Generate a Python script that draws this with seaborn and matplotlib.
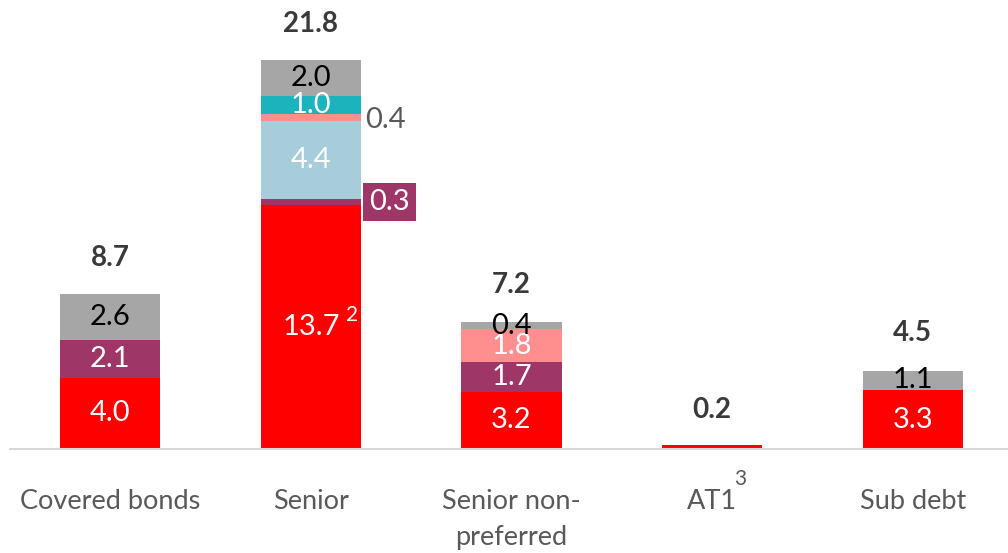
import matplotlib
matplotlib.use("Agg")
import matplotlib.pyplot as plt
import seaborn as sns
import numpy as np
import pandas as pd

categories = ["Covered bonds", "Senior", "Senior non-\npreferred", "AT1", "Sub debt"]
layers = ["base", "purple", "lightblue", "pink", "teal", "gray"]
base = [4.0, 13.7, 3.2, 0.2, 3.3]
purple = [2.1, 0.3, 1.7, 0.0, 0.0]
lightblue = [0.0, 4.4, 0.0, 0.0, 0.0]
pink = [0.0, 0.4, 1.8, 0.0, 0.0]
teal = [0.0, 1.0, 0.0, 0.0, 0.0]
gray = [2.6, 2.0, 0.4, 0.0, 1.1]
totals = [8.7, 21.8, 7.2, 0.2, 4.5]

colors = {"base": "#FF0000", "purple": "#9E3667", "lightblue": "#A7CCDA",
          "pink": "#FF8F8F", "teal": "#1BB3BC", "gray": "#A6A6A6"}
label_colors = {"base": "white", "purple": "white", "lightblue": "white",
                "pink": "white", "teal": "white", "gray": "black"}

sns.set_theme(style="white")
plt.rcParams["font.family"] = ["Lato", "DejaVu Sans"]

vals = {"base": base, "purple": purple, "lightblue": lightblue, "pink": pink,
        "teal": teal, "gray": gray}
cum = np.cumsum(np.array([vals[l] for l in layers]), axis=0)

fig = plt.figure(figsize=(10.08, 5.53), dpi=100)
ax = fig.add_axes([10/1008, 104/553, 1003/1008, 449/553])

# draw cumulative bars from top layer down so lower layers overlay
for i in range(len(layers) - 1, -1, -1):
    df = pd.DataFrame({"cat": categories, "h": cum[i]})
    sns.barplot(data=df, x="cat", y="h", order=categories, color=colors[layers[i]],
                width=0.5, errorbar=None, saturation=1, ax=ax, linewidth=0)

ax.set_xlim(-0.5, 4.5)
ax.set_ylim(0, 25.17)
ax.set_xlabel("")
ax.set_ylabel("")
ax.set_yticks([])
for s in ["top", "left", "right"]:
    ax.spines[s].set_visible(False)
ax.spines["bottom"].set_color("#D9D9D9")
ax.spines["bottom"].set_linewidth(1.5)
ax.tick_params(axis="x", length=0, pad=29, labelsize=19.5, labelcolor="#595959")
ax.set_xticks(range(5))
ax.set_xticklabels(categories, linespacing=1.55)

fs = 21
# in-bar labels
skip = {(1, "purple"), (1, "pink")}
for j in range(5):
    for i, l in enumerate(layers):
        v = vals[l][j]
        if v <= 0 or (j, l) in skip or (j == 3):
            continue
        bottom = cum[i][j] - v
        y = bottom + v / 2
        ax.text(j, y, f"{v:.1f}", ha="center", va="center", fontsize=fs,
                color=label_colors[l])
    ax.text(j, totals[j] + 2.0, f"{totals[j]:.1f}", ha="center", va="center",
            fontsize=20, fontweight="bold", color="#3A3A3A")

# outside labels for Senior small segments
ax.text(1.27, cum[3][1] - pink[1] / 2 - 0.15, f"{pink[1]:.1f}", ha="left", va="center",
        fontsize=fs, color="#595959")
ax.text(1.29, cum[1][1] - purple[1] / 2, f"{purple[1]:.1f}", ha="left", va="center",
        fontsize=fs, color="white",
        bbox=dict(boxstyle="square,pad=0.22", fc=colors["purple"], ec="none"))

# superscripts
ax.text(1.175, base[1] / 2 + 0.65, "2", ha="left", va="center", fontsize=15, color="white")
ax.text(3.11, -1.7, "3", ha="left", va="center", fontsize=15, color="#595959")

fig.savefig("out.png", dpi=100)
